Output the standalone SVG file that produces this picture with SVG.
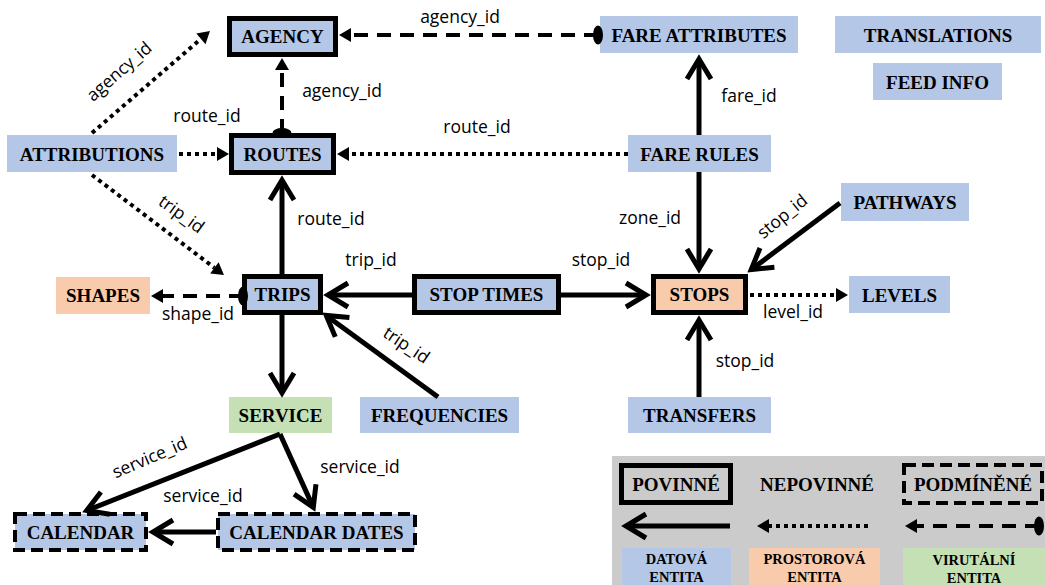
<svg xmlns="http://www.w3.org/2000/svg" width="1045" height="585" viewBox="0 0 1045 585">
<style>
.blue{fill:#b4c7e7}
.peach{fill:#f8cbad}
.green{fill:#c5e0b4}
.req{stroke:#000;stroke-width:5}
.cond{stroke:#000;stroke-width:4;stroke-dasharray:12 6}
.nt{font-family:"Liberation Serif",serif;font-weight:bold;font-size:19px;text-anchor:middle;fill:#000}
.lt{font-family:"Liberation Serif",serif;font-weight:bold;font-size:14.5px;text-anchor:middle;fill:#000}
.lb{font-family:"Open Sans","Liberation Sans",sans-serif;font-size:17.5px;text-anchor:middle;fill:#000}
.solid{stroke:#000;stroke-width:5;fill:none;marker-end:url(#open)}
.dot{stroke:#000;stroke-width:4;fill:none;stroke-dasharray:4 4;marker-end:url(#tri)}
.dash{stroke:#000;stroke-width:4;fill:none;stroke-dasharray:14 9;marker-end:url(#tri);marker-start:url(#ell)}
</style>
<defs>
<marker id="open" viewBox="-30 -18 40 36" refX="0" refY="0" markerWidth="40" markerHeight="36" markerUnits="userSpaceOnUse" orient="auto">
<path d="M-20,-12 L0,0 L-20,12" fill="none" stroke="#000" stroke-width="5"/>
</marker>
<marker id="tri" viewBox="-2 -10 16 20" refX="0" refY="0" markerWidth="16" markerHeight="20" markerUnits="userSpaceOnUse" orient="auto">
<path d="M0,-7 L12,0 L0,7 Z" fill="#000"/>
</marker>
<marker id="ell" viewBox="-8 -12 16 24" refX="0" refY="0" markerWidth="16" markerHeight="24" markerUnits="userSpaceOnUse" orient="auto">
<ellipse cx="0" cy="0" rx="5" ry="9.5" fill="#000"/>
</marker>
</defs>
<rect width="1045" height="585" fill="#fff"/>

<g id="agency"><rect x="229.5" y="18.5" width="106" height="36" class="blue req"/><text x="282.5" y="43" class="nt">AGENCY</text></g>
<g id="routes"><rect x="231.5" y="135.5" width="102" height="37" class="blue req"/><text x="282.5" y="160.5" class="nt">ROUTES</text></g>
<g id="attributions"><rect x="7" y="135" width="170" height="37" class="blue"/><text x="92" y="160.5" class="nt">ATTRIBUTIONS</text></g>
<g id="fare-attributes"><rect x="600" y="16" width="198" height="37" class="blue"/><text x="699" y="41.5" class="nt">FARE ATTRIBUTES</text></g>
<g id="translations"><rect x="835" y="16" width="206" height="37" class="blue"/><text x="938" y="41.5" class="nt">TRANSLATIONS</text></g>
<g id="feed-info"><rect x="873" y="63" width="129" height="37" class="blue"/><text x="937.5" y="88.5" class="nt">FEED INFO</text></g>
<g id="fare-rules"><rect x="628" y="135" width="143" height="37" class="blue"/><text x="699.5" y="160.5" class="nt">FARE RULES</text></g>
<g id="pathways"><rect x="841" y="183" width="128" height="38" class="blue"/><text x="905" y="209" class="nt">PATHWAYS</text></g>
<g id="levels"><rect x="849" y="276" width="101" height="37" class="blue"/><text x="899.5" y="301.5" class="nt">LEVELS</text></g>
<g id="stops"><rect x="653.5" y="276.5" width="92" height="36" class="peach req"/><text x="699.5" y="301" class="nt">STOPS</text></g>
<g id="stop-times"><rect x="414.5" y="276.5" width="144" height="36" class="blue req"/><text x="486.5" y="301" class="nt">STOP TIMES</text></g>
<g id="trips"><rect x="244.5" y="276.5" width="76" height="36" class="blue req"/><text x="282.5" y="301" class="nt">TRIPS</text></g>
<g id="shapes"><rect x="56" y="277" width="94" height="37" class="peach"/><text x="103" y="302" class="nt">SHAPES</text></g>
<g id="service"><rect x="229" y="397" width="103" height="36" class="green"/><text x="280.5" y="421.5" class="nt">SERVICE</text></g>
<g id="frequencies"><rect x="360" y="397" width="159" height="36" class="blue"/><text x="439.5" y="421.5" class="nt">FREQUENCIES</text></g>
<g id="transfers"><rect x="628" y="397" width="143" height="36" class="blue"/><text x="699.5" y="421.5" class="nt">TRANSFERS</text></g>
<g id="calendar"><rect x="15" y="514" width="131" height="36" class="blue cond"/><text x="80.5" y="538.5" class="nt">CALENDAR</text></g>
<g id="calendar-dates"><rect x="218" y="514" width="197" height="36" class="blue cond"/><text x="316.5" y="538.5" class="nt">CALENDAR DATES</text></g>

<g id="connectors">
<line x1="92" y1="133" x2="200.9" y2="38.9" class="dot"/>
<line x1="179" y1="154" x2="217" y2="154" class="dot"/>
<line x1="92" y1="175" x2="214.4" y2="267.8" class="dot"/>
<line x1="282" y1="133" x2="282" y2="70" class="dash"/>
<line x1="598" y1="35" x2="351" y2="35" class="dash"/>
<line x1="628" y1="154" x2="349" y2="154" class="dot"/>
<line x1="699" y1="135" x2="699" y2="59" class="solid"/>
<line x1="699" y1="172" x2="699" y2="269" class="solid"/>
<line x1="840" y1="203" x2="751.2" y2="269.6" class="solid"/>
<line x1="750" y1="295" x2="836" y2="295" class="dot"/>
<line x1="699" y1="397" x2="699" y2="320" class="solid"/>
<line x1="412" y1="295" x2="328" y2="295" class="solid"/>
<line x1="561" y1="295" x2="646" y2="295" class="solid"/>
<line x1="282" y1="274" x2="282" y2="180" class="solid"/>
<line x1="243" y1="296" x2="163" y2="296" class="dash"/>
<line x1="438" y1="397" x2="326.2" y2="315.4" class="solid"/>
<line x1="282" y1="315" x2="282" y2="393" class="solid"/>
<line x1="280" y1="434" x2="86.7" y2="510.5" class="solid"/>
<line x1="280" y1="434" x2="313.3" y2="507.4" class="solid"/>
<line x1="216" y1="532" x2="153" y2="532" class="solid"/>

<text class="lb" transform="translate(123,76) rotate(-41)">agency_id</text>
<text x="207" y="122" class="lb">route_id</text>
<text class="lb" transform="translate(178,219) rotate(36)">trip_id</text>
<text x="342" y="97" class="lb">agency_id</text>
<text x="460" y="23" class="lb">agency_id</text>
<text x="477" y="133" class="lb">route_id</text>
<text x="749" y="102" class="lb">fare_id</text>
<text x="650" y="224" class="lb">zone_id</text>
<text class="lb" transform="translate(786,221) rotate(-39)">stop_id</text>
<text x="793" y="318" class="lb">level_id</text>
<text x="745" y="367" class="lb">stop_id</text>
<text x="371" y="266" class="lb">trip_id</text>
<text x="601" y="266" class="lb">stop_id</text>
<text x="331" y="225" class="lb">route_id</text>
<text x="198" y="320" class="lb">shape_id</text>
<text class="lb" transform="translate(403,350) rotate(34)">trip_id</text>
<text class="lb" transform="translate(152,463) rotate(-23)">service_id</text>
<text x="360" y="473" class="lb">service_id</text>
<text x="203" y="502" class="lb">service_id</text>
</g>

<g id="legend">
<rect x="612" y="456" width="433" height="129" fill="#cbcbcb"/>
<rect x="621.5" y="465.5" width="109" height="37" fill="none" class="req"/>
<text x="676" y="491" class="nt">POVINNÉ</text>
<text x="817" y="491" class="nt">NEPOVINNÉ</text>
<rect x="904" y="465" width="138" height="38" fill="none" class="cond"/>
<text x="973" y="491" class="nt">PODMÍNĚNÉ</text>
<line x1="730" y1="526" x2="626" y2="526" class="solid"/>
<line x1="868" y1="526" x2="769" y2="526" class="dot"/>
<line x1="1039" y1="526" x2="917" y2="526" class="dash"/>
<rect x="622" y="548" width="109" height="40" class="blue"/>
<text x="676.5" y="564" class="lt">DATOVÁ</text><text x="676.5" y="582" class="lt">ENTITA</text>
<rect x="749" y="548" width="131" height="40" class="peach"/>
<text x="814.5" y="564" class="lt">PROSTOROVÁ</text><text x="814.5" y="582" class="lt">ENTITA</text>
<rect x="903" y="548" width="142" height="40" class="green"/>
<text x="974" y="565" class="lt">VIRUTÁLNÍ</text><text x="974" y="583" class="lt">ENTITA</text>
</g>
</svg>
